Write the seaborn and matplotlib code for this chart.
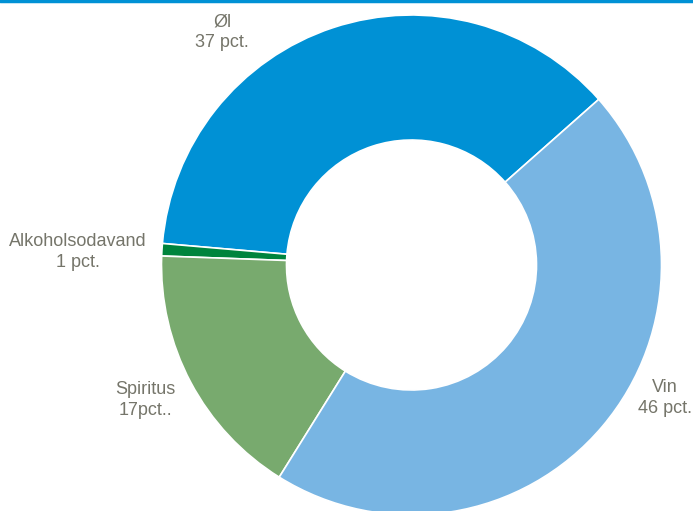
import matplotlib
matplotlib.use("Agg")
import matplotlib.pyplot as plt
import seaborn as sns

# shares of alcohol consumption (pct.)
categories = ['Øl', 'Alkoholsodavand', 'Spiritus', 'Vin']
shares = [37.1, 0.8, 16.7, 45.4]
labels = ['Øl\n37 pct.', 'Alkoholsodavand\n1 pct.', 'Spiritus\n17pct..', 'Vin\n46 pct.']
colors = ['#0091d5', '#00843d', '#78aa6e', '#78b5e3']

sns.set_theme(style='white')
plt.rcParams['font.family'] = ['Liberation Sans', 'DejaVu Sans']

fig = plt.figure(figsize=(6.93, 5.11), dpi=100)
ax = fig.add_axes([0, 0, 1, 1])

wedges, _ = ax.pie(shares, colors=colors, startangle=41.5, counterclock=True,
                   radius=1.0, wedgeprops=dict(width=0.5, edgecolor='white', linewidth=1.2))

# label positions next to the ring
label_pos = [(-0.758, 0.93), (-1.334, 0.052), (-1.066, -0.54), (1.014, -0.532)]
for txt, (x, y) in zip(labels, label_pos):
    ax.text(x, y, txt, ha='center', va='center', fontsize=13, color='#75756a', linespacing=1.3)

ax.set_xlim(-1.646, 1.126)
ax.set_ylim(-0.984, 1.06)
ax.set_aspect('equal')
ax.axis('off')

# thin blue rule at the top
fig.add_artist(plt.Line2D([0, 1], [0.998, 0.998], color='#0091d5', linewidth=2.5, transform=fig.transFigure))

fig.savefig('out.png', dpi=100)
